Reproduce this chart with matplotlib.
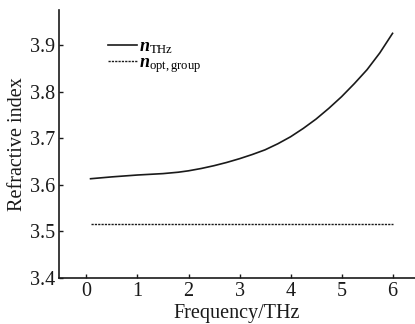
import matplotlib
matplotlib.use("Agg")
import matplotlib.pyplot as plt

plt.rcParams['font.family'] = ['Liberation Serif', 'DejaVu Serif']
plt.rcParams['mathtext.fontset'] = 'custom'
plt.rcParams['mathtext.rm'] = 'Liberation Serif'
plt.rcParams['mathtext.it'] = 'Liberation Serif:italic'
plt.rcParams['mathtext.bf'] = 'Liberation Serif:bold:italic'

freq = [0.08, 0.5, 1.0, 1.5, 1.8, 2.0, 2.25, 2.5, 2.75, 3.0, 3.25, 3.5, 3.75,
        4.0, 4.25, 4.5, 4.75, 5.0, 5.25, 5.5, 5.75, 6.0]
n_thz = [3.613, 3.617, 3.621, 3.624, 3.627, 3.630, 3.635, 3.641, 3.648, 3.656,
         3.665, 3.675, 3.688, 3.703, 3.721, 3.741, 3.764, 3.789, 3.817, 3.847,
         3.883, 3.925]
freq_opt = [0.08, 6.0]
n_opt = [3.516, 3.516]
xticks = [0, 1, 2, 3, 4, 5, 6]
yticks = [3.4, 3.5, 3.6, 3.7, 3.8, 3.9]

fig = plt.figure(figsize=(4.15, 3.24), dpi=100)
ax = fig.add_axes([0.142, 0.142, 0.858, 0.827])

ax.plot(freq, n_thz, color='#1a1a1a', lw=1.2, label=r'$\mathbf{n}_{\mathrm{THz}}$')
ax.plot(freq_opt, n_opt, color='#1a1a1a', lw=1.0, linestyle=(0, (1.6, 0.8)),
        label=r'$\mathbf{n}_{\mathrm{opt,group}}$')

ax.set_xlim(-0.54, 6.44)
ax.set_ylim(3.4, 3.975)
ax.set_xticks(xticks)
ax.set_yticks(yticks)
ax.set_yticklabels([f'{v:.1f}' for v in yticks])

for s in ['top', 'right']:
    ax.spines[s].set_visible(False)
for s in ['left', 'bottom']:
    ax.spines[s].set_linewidth(1.2)
    ax.spines[s].set_color('#1a1a1a')

ax.tick_params(direction='in', length=3, width=1.0, labelsize=14.5, colors='#1a1a1a',
               pad=3)
ax.set_xlabel('Frequency/THz', fontsize=14.5, color='#1a1a1a', labelpad=2)
ax.set_ylabel('Refractive index', fontsize=14.5, color='#1a1a1a', labelpad=2)

leg = ax.legend(loc='upper left', bbox_to_anchor=(0.138, 0.894), frameon=False,
                fontsize=13, handlelength=1.6, handletextpad=0.1,
                labelspacing=-0.1, borderpad=0, borderaxespad=0)

fig.savefig('out.png', dpi=100)
